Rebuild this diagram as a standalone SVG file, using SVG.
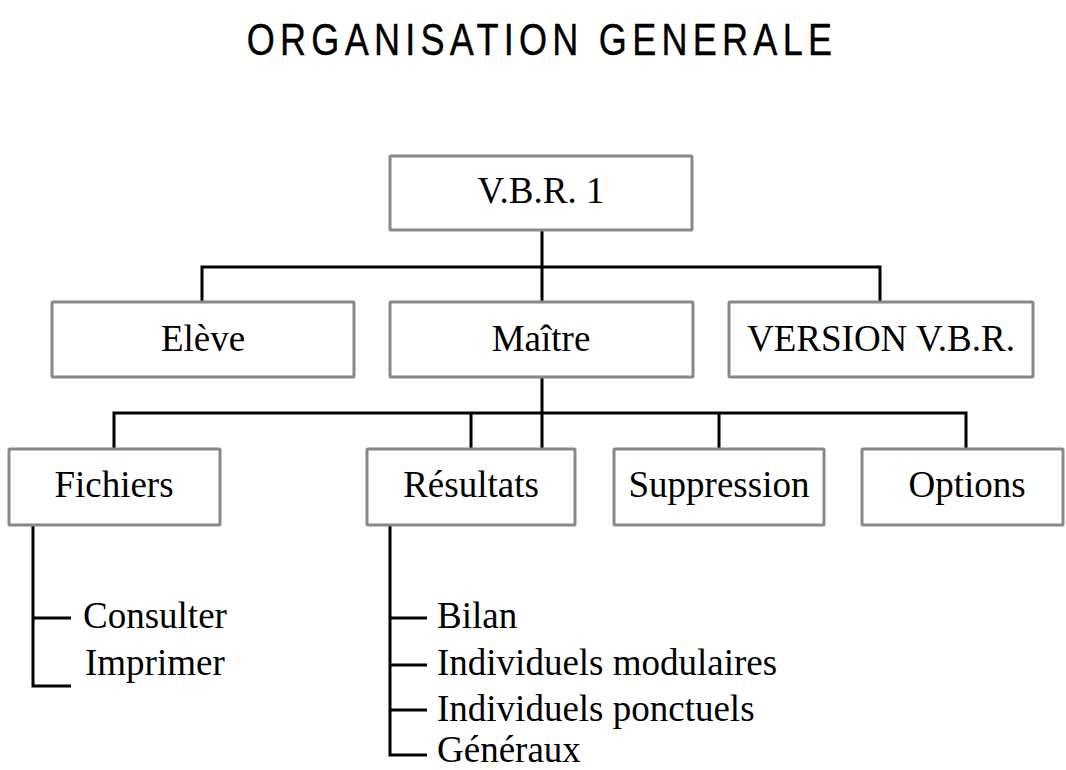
<svg xmlns="http://www.w3.org/2000/svg" width="1066" height="770" viewBox="0 0 1066 770">
<style>
.box{fill:#fff;stroke:#888;stroke-width:3}
.lbl{font-family:"Liberation Serif","Times New Roman",serif;font-size:37px;fill:#000}
.c{text-anchor:middle}
.ln{fill:none;stroke:#000;stroke-width:3;stroke-linejoin:miter}
.title{font-family:"Liberation Sans",Arial,sans-serif;font-size:44px;letter-spacing:6.4px;fill:#000;stroke:#000;stroke-width:0.4;text-anchor:middle}
</style>
<rect width="1066" height="770" fill="#fff"/>
<text class="title" transform="translate(542,55) scale(0.82,1)" x="0" y="0">ORGANISATION GENERALE</text>
<g id="connectors">
<path class="ln" d="M542 230V302M202 302V267H880V302"/>
<path class="ln" d="M542 377V449M114 449V413H966V449M471 413V449M719 413V449"/>
<path class="ln" d="M33 525V686H71M33 618H71"/>
<path class="ln" d="M390 525V755H427M390 618H427M390 665H427M390 710H427"/>
</g>
<g id="vbr1"><rect class="box" x="390" y="156" width="302" height="74" rx="1"/><text class="lbl c" x="541" y="203">V.B.R. 1</text></g>
<g id="eleve"><rect class="box" x="52" y="302" width="302" height="75" rx="1"/><text class="lbl c" x="203" y="351">Elève</text></g>
<g id="maitre"><rect class="box" x="390" y="302" width="303" height="75" rx="1"/><text class="lbl c" x="541" y="351">Maître</text></g>
<g id="version"><rect class="box" x="729" y="302" width="304" height="75" rx="1"/><text class="lbl c" x="881" y="351">VERSION V.B.R.</text></g>
<g id="fichiers"><rect class="box" x="9" y="449" width="211" height="76" rx="1"/><text class="lbl c" x="114" y="497">Fichiers</text></g>
<g id="resultats"><rect class="box" x="367" y="449" width="208" height="76" rx="1"/><text class="lbl c" x="471" y="497">Résultats</text></g>
<g id="suppression"><rect class="box" x="614" y="449" width="210" height="76" rx="1"/><text class="lbl c" x="719" y="497">Suppression</text></g>
<g id="options"><rect class="box" x="862" y="449" width="201" height="76" rx="1"/><text class="lbl c" x="967" y="497">Options</text></g>
<g id="fichiers-items">
<text class="lbl" x="83" y="628">Consulter</text>
<text class="lbl" x="85" y="675">Imprimer</text>
</g>
<g id="resultats-items">
<text class="lbl" x="437" y="628">Bilan</text>
<text class="lbl" x="437" y="675">Individuels modulaires</text>
<text class="lbl" x="437" y="721">Individuels ponctuels</text>
<text class="lbl" x="437" y="762">Généraux</text>
</g>
</svg>
